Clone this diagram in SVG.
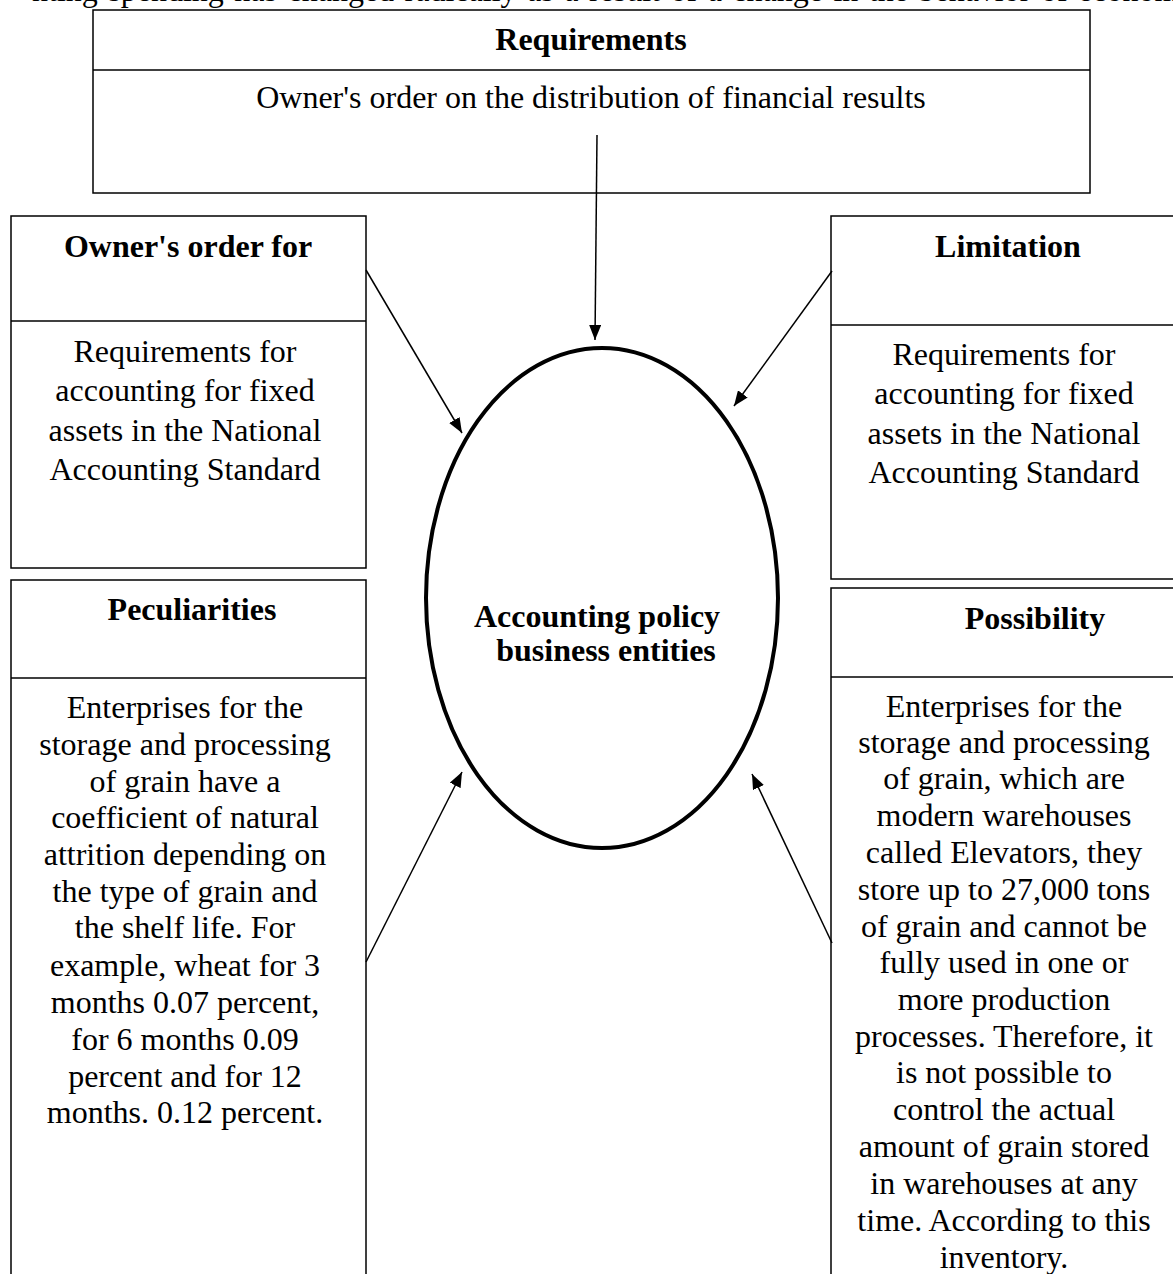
<svg xmlns="http://www.w3.org/2000/svg" width="1173" height="1274" viewBox="0 0 1173 1274">
<style>
text{font-family:"Liberation Serif","Times New Roman",serif;font-size:32px;fill:#000;text-anchor:middle}
.b{font-weight:bold}
.box{fill:#fff;stroke:#000;stroke-width:1.5}
.div{stroke:#000;stroke-width:1.5}
.conn line{stroke:#000;stroke-width:1.5;marker-end:url(#ah)}
</style>
<defs>
<marker id="ah" markerWidth="15" markerHeight="12" refX="15" refY="6" orient="auto" markerUnits="userSpaceOnUse"><path d="M0,0 L15,6 L0,12 z" fill="#000"/></marker>
</defs>
<rect width="1173" height="1274" fill="#fff"/>
<text x="32" y="0.5" style="text-anchor:start" word-spacing="2.5">nting spending has changed radically as a result of a change in the behavior of economic</text>

<g id="requirements">
<rect class="box" x="93" y="10" width="997" height="183"/>
<line class="div" x1="93" y1="70" x2="1090" y2="70"/>
<text class="b" x="591" y="50">Requirements</text>
<text x="591" y="108">Owner's order on the distribution of financial results</text>
</g>

<g id="owners-order">
<rect class="box" x="11" y="216" width="355" height="352"/>
<line class="div" x1="11" y1="321" x2="366" y2="321"/>
<text class="b" x="188" y="257">Owner's order for</text>
<text x="185" y="362">Requirements for</text>
<text x="185" y="401">accounting for fixed</text>
<text x="185" y="441">assets in the National</text>
<text x="185" y="480">Accounting Standard</text>
</g>

<g id="limitation">
<rect class="box" x="831" y="216" width="360" height="363"/>
<line class="div" x1="831" y1="325" x2="1191" y2="325"/>
<text class="b" x="1008" y="257">Limitation</text>
<text x="1004" y="365">Requirements for</text>
<text x="1004" y="404">accounting for fixed</text>
<text x="1004" y="444">assets in the National</text>
<text x="1004" y="483">Accounting Standard</text>
</g>

<g id="peculiarities">
<rect class="box" x="11" y="580" width="355" height="720"/>
<line class="div" x1="11" y1="678" x2="366" y2="678"/>
<text class="b" x="192" y="620">Peculiarities</text>
<text x="185" y="718">Enterprises for the</text>
<text x="185" y="755">storage and processing</text>
<text x="185" y="792">of grain have a</text>
<text x="185" y="828">coefficient of natural</text>
<text x="185" y="865">attrition depending on</text>
<text x="185" y="902">the type of grain and</text>
<text x="185" y="938">the shelf life. For</text>
<text x="185" y="976">example, wheat for 3</text>
<text x="185" y="1013">months 0.07 percent,</text>
<text x="185" y="1050">for 6 months 0.09</text>
<text x="185" y="1087">percent and for 12</text>
<text x="185" y="1123">months. 0.12 percent.</text>
</g>

<g id="possibility">
<rect class="box" x="831" y="588" width="360" height="720"/>
<line class="div" x1="831" y1="677" x2="1191" y2="677"/>
<text class="b" x="1035" y="629">Possibility</text>
<text x="1004" y="717">Enterprises for the</text>
<text x="1004" y="753">storage and processing</text>
<text x="1004" y="789">of grain, which are</text>
<text x="1004" y="826">modern warehouses</text>
<text x="1004" y="863">called Elevators, they</text>
<text x="1004" y="900">store up to 27,000 tons</text>
<text x="1004" y="937">of grain and cannot be</text>
<text x="1004" y="973">fully used in one or</text>
<text x="1004" y="1010">more production</text>
<text x="1004" y="1047">processes. Therefore, it</text>
<text x="1004" y="1083">is not possible to</text>
<text x="1004" y="1120">control the actual</text>
<text x="1004" y="1157">amount of grain stored</text>
<text x="1004" y="1194">in warehouses at any</text>
<text x="1004" y="1231">time. According to this</text>
<text x="1004" y="1268">inventory.</text>
</g>

<g id="accounting-policy">
<ellipse cx="602" cy="598" rx="176" ry="250" fill="none" stroke="#000" stroke-width="4"/>
<text class="b" x="597" y="627">Accounting policy</text>
<text class="b" x="606" y="661">business entities</text>
</g>

<g id="connectors" class="conn">
<line x1="597" y1="135" x2="595" y2="340"/>
<line x1="366" y1="270" x2="462" y2="433"/>
<line x1="832" y1="271" x2="734" y2="406"/>
<line x1="366" y1="962" x2="462" y2="772"/>
<line x1="832" y1="943" x2="752" y2="774"/>
</g>
</svg>
